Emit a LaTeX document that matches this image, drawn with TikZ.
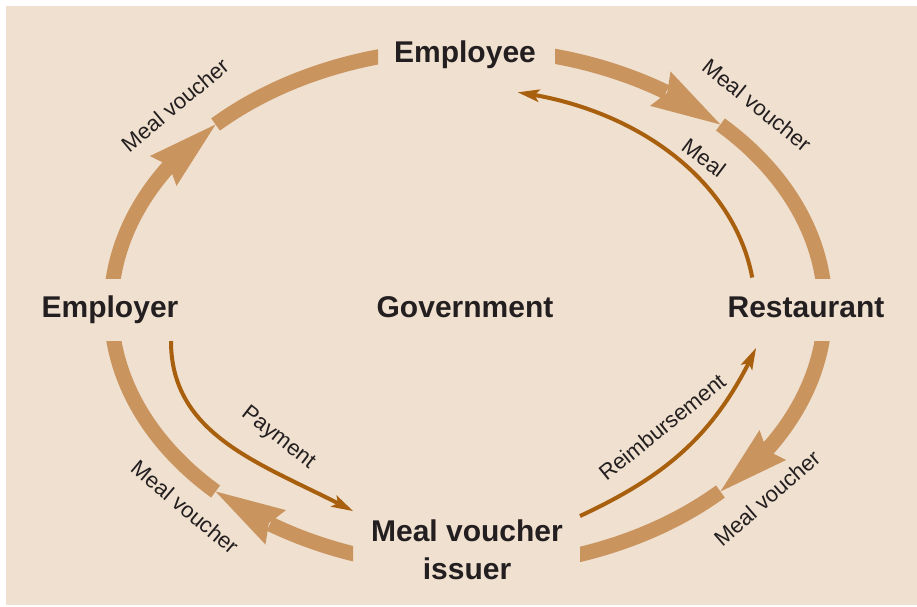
\documentclass[tikz,border=0pt]{standalone}
\usepackage{fontspec}
\setmainfont{Liberation Sans}
\usetikzlibrary{arrows.meta,bending,calc}
\definecolor{bgc}{HTML}{F0E0CF}
\definecolor{thickc}{HTML}{C9945E}
\definecolor{thinc}{HTML}{A8600F}
\definecolor{txtc}{HTML}{231F20}
\begin{document}
\begin{tikzpicture}[x=1pt,y=1pt,
  flow/.style={draw=thickc, line width=15pt},
  flowtip/.style={flow, -{Stealth[length=70pt,width=40pt,inset=8pt,line width=0pt]}},
  thinarrow/.style={draw=thinc, line width=4pt, -{Stealth[length=22pt,width=13pt,inset=5pt,line width=0pt]}},
  big/.style={font=\fontsize{30}{38}\selectfont\bfseries, text=txtc, inner sep=0pt},
  small/.style={font=\fontsize{22}{26}\selectfont, text=txtc, inner sep=0pt},
  ell/.style={x radius=357, y radius=259.5}]
\useasboundingbox (0,0) rectangle (917,-606);
\fill[bgc] (6,-6) rectangle (917,-605);

% main labels
\node[big,anchor=base] (employee) at (465,-62) {Employee};
\node[big,anchor=base] (employer) at (110,-317) {Employer};
\node[big,anchor=base] (gov) at (465,-317) {Government};
\node[big,anchor=base] (rest) at (806,-317) {Restaurant};
\node[big,anchor=north,align=center] (issuer) at (467,-520) {Meal voucher\\issuer};

% ellipse of the voucher flows
\coordinate (O) at (468,-308);
\coordinate (a1s) at ($(O)+(175:357 and 259.5)$);
\coordinate (t1)  at ($(O)+(135:357 and 259.5)$);
\coordinate (a2s) at ($(O)+(78:357 and 259.5)$);
\coordinate (t2)  at ($(O)+(45:357 and 259.5)$);
\coordinate (a4s) at ($(O)+(-5:357 and 259.5)$);
\coordinate (t4)  at ($(O)+(-45:357 and 259.5)$);
\coordinate (a3s) at ($(O)+(254:357 and 259.5)$);
\coordinate (t3)  at ($(O)+(225:357 and 259.5)$);

% Employer -> Employee
\begin{scope}
\clip (0,0) rectangle (378,-278);
\draw[flowtip] (a1s) arc[start angle=175, end angle=135, ell];
\draw[flow] (t1) arc[start angle=135, end angle=102, ell];
\end{scope}
% Employee -> Restaurant
\begin{scope}
\clip (555,0) rectangle (917,-278);
\draw[flowtip] (a2s) arc[start angle=78, end angle=45, ell];
\draw[flow] (t2) arc[start angle=45, end angle=5, ell];
\end{scope}
% Restaurant -> Meal voucher issuer
\begin{scope}
\clip (580,-341) rectangle (917,-606);
\draw[flowtip] (a4s) arc[start angle=-5, end angle=-45, ell];
\draw[flow] (t4) arc[start angle=-45, end angle=-74, ell];
\end{scope}
% Meal voucher issuer -> Employer
\begin{scope}
\clip (0,-341) rectangle (353,-606);
\draw[flowtip] (a3s) arc[start angle=254, end angle=225, ell];
\draw[flow] (t3) arc[start angle=225, end angle=185, ell];
\end{scope}

% thin flows
\coordinate (meal-s) at ($(O)+(8:287 and 219)$);
\coordinate (pay-s) at (171,-341);
\coordinate (pay-e) at (353,-511);
\coordinate (reim-s) at (580,-516);
\coordinate (reim-e) at (756,-348);
\draw[thinarrow] (meal-s) arc[start angle=8, end angle=80, x radius=287, y radius=219];
\draw[thinarrow] (pay-s) to[out=-90,in=152] (pay-e);
\draw[thinarrow] (reim-s) to[out=25,in=245] (reim-e);

% small labels
\node[small,rotate=40] (l1) at (175,-105) {Meal voucher};
\node[small,rotate=-39] (l2) at (757,-105) {Meal voucher};
\node[small,rotate=-37] (l3) at (704,-158) {Meal};
\node[small,rotate=-40] (l4) at (185,-507) {Meal voucher};
\node[small,rotate=-38] (l5) at (278,-438) {Payment};
\node[small,rotate=39] (l6) at (662,-427) {Reimbursement};
\node[small,rotate=41] (l7) at (767,-498) {Meal voucher};
\end{tikzpicture}
\end{document}
